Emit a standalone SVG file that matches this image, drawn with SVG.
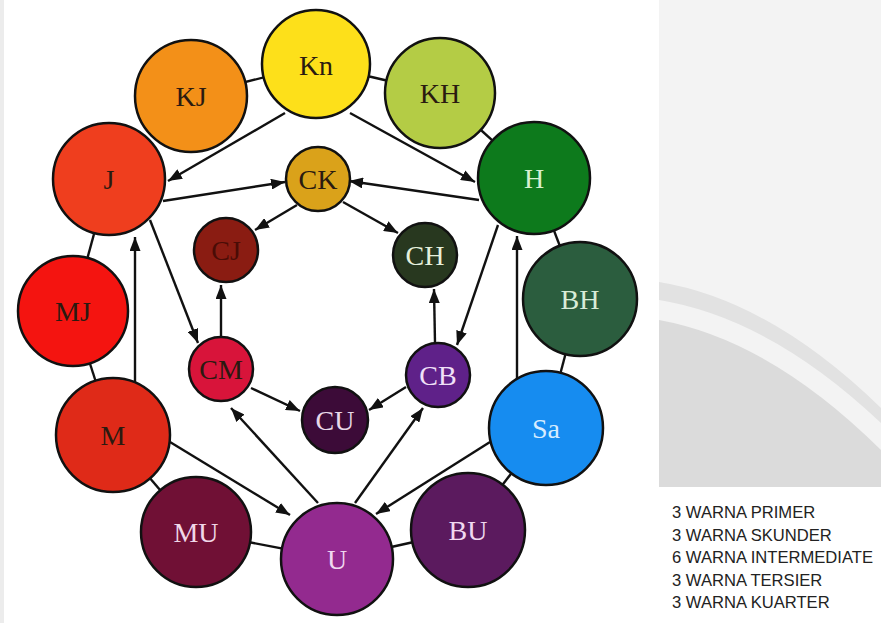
<svg xmlns="http://www.w3.org/2000/svg" width="881" height="623" viewBox="0 0 881 623">
<style>
.c{stroke:#111;stroke-width:2.5}
.t{font-family:"Liberation Serif","Times New Roman",serif;font-size:28px;text-anchor:middle}
.d{fill:#2a1a10}
.ln{stroke:#111;stroke-width:2.4;fill:none}
.ar{stroke:#111;stroke-width:2.4;fill:none;marker-end:url(#ah)}
.lg{font-family:"Liberation Sans",Arial,sans-serif;font-size:16.6px;fill:#222}
</style>
<defs>
<marker id="ah" viewBox="0 0 14 11" refX="14" refY="5.5" markerWidth="14" markerHeight="11" markerUnits="userSpaceOnUse" orient="auto">
<path d="M0,0 L14,5.5 L0,11 z" fill="#111"/>
</marker>
</defs>
<rect width="881" height="623" fill="#fff"/>
<g id="watermark">
<rect x="0" y="0" width="4" height="623" fill="#ececec"/>
<rect x="659" y="0" width="222" height="487" fill="#f3f3f3"/>
<path d="M659,282 Q770,300 881,408 L881,423 Q770,318 659,300 Z" fill="#e2e2e2"/>
<path d="M659,320 Q770,340 881,450 L881,487 L659,487 Z" fill="#dbdbdb"/>
</g>
<g id="connectors">
<line class="ln" x1="316" y1="64" x2="191" y2="96"/>
<line class="ln" x1="316" y1="64" x2="440" y2="93"/>
<line class="ln" x1="440" y1="93" x2="534" y2="178"/>
<line class="ln" x1="534" y1="178" x2="580" y2="299"/>
<line class="ln" x1="580" y1="299" x2="546" y2="428"/>
<line class="ln" x1="546" y1="428" x2="468" y2="530"/>
<line class="ln" x1="468" y1="530" x2="337" y2="559"/>
<line class="ln" x1="337" y1="559" x2="196" y2="532"/>
<line class="ln" x1="196" y1="532" x2="113" y2="435"/>
<line class="ln" x1="113" y1="435" x2="73" y2="311"/>
<line class="ln" x1="73" y1="311" x2="109" y2="179"/>
<line class="ar" x1="285" y1="113" x2="168" y2="181"/>
<line class="ar" x1="350" y1="113" x2="475" y2="182"/>
<line class="ar" x1="163" y1="201" x2="285" y2="182"/>
<line class="ar" x1="479" y1="200" x2="349" y2="181"/>
<line class="ar" x1="297" y1="205" x2="255" y2="230"/>
<line class="ar" x1="343" y1="202" x2="398" y2="233"/>
<line class="ar" x1="150" y1="220" x2="198" y2="343"/>
<line class="ar" x1="135" y1="385" x2="135" y2="237"/>
<line class="ar" x1="221" y1="337" x2="221" y2="285"/>
<line class="ar" x1="498" y1="225" x2="457" y2="345"/>
<line class="ar" x1="517" y1="380" x2="517" y2="236"/>
<line class="ar" x1="435" y1="343" x2="434" y2="289"/>
<line class="ar" x1="406" y1="387" x2="369" y2="410"/>
<line class="ar" x1="251" y1="388" x2="300" y2="411"/>
<line class="ar" x1="318" y1="503" x2="231" y2="408"/>
<line class="ar" x1="355" y1="503" x2="423" y2="408"/>
<line class="ar" x1="170" y1="442" x2="290" y2="515"/>
<line class="ar" x1="490" y1="442" x2="376" y2="514"/>
</g>
<g id="node-Kn"><circle class="c" cx="316" cy="64" r="54" fill="#fde01a"/><text class="t d" x="316" y="75">Kn</text></g>
<g id="node-KJ"><circle class="c" cx="191" cy="96" r="56" fill="#f39018"/><text class="t d" x="191" y="106">KJ</text></g>
<g id="node-KH"><circle class="c" cx="440" cy="93" r="55" fill="#b4cc45"/><text class="t d" x="440" y="103">KH</text></g>
<g id="node-J"><circle class="c" cx="109" cy="179" r="56" fill="#ef3e1e"/><text class="t d" x="109" y="189">J</text></g>
<g id="node-H"><circle class="c" cx="534" cy="178" r="56" fill="#0d7a1c"/><text class="t" x="534" y="188" fill="#d8f0d0">H</text></g>
<g id="node-MJ"><circle class="c" cx="73" cy="311" r="55" fill="#f41410"/><text class="t d" x="73" y="321">MJ</text></g>
<g id="node-BH"><circle class="c" cx="580" cy="299" r="57" fill="#2b5d3e"/><text class="t" x="580" y="309" fill="#d8ecd8">BH</text></g>
<g id="node-M"><circle class="c" cx="113" cy="435" r="57" fill="#df2a18"/><text class="t d" x="113" y="445">M</text></g>
<g id="node-Sa"><circle class="c" cx="546" cy="428" r="57" fill="#168cf0"/><text class="t" x="546" y="438" fill="#d6ecff">Sa</text></g>
<g id="node-MU"><circle class="c" cx="196" cy="532" r="55" fill="#701035"/><text class="t" x="196" y="542" fill="#f0d8e8">MU</text></g>
<g id="node-U"><circle class="c" cx="337" cy="559" r="56" fill="#932a8f"/><text class="t" x="337" y="569" fill="#f0d8f0">U</text></g>
<g id="node-BU"><circle class="c" cx="468" cy="530" r="57" fill="#5b1a5e"/><text class="t" x="468" y="540" fill="#f0d8f0">BU</text></g>
<g id="node-CK"><circle class="c" cx="318" cy="179" r="32" fill="#daa21a"/><text class="t d" x="318" y="189">CK</text></g>
<g id="node-CJ"><circle class="c" cx="226" cy="250" r="32" fill="#8a1c12"/><text class="t" x="226" y="260" fill="#4a0c06">CJ</text></g>
<g id="node-CH"><circle class="c" cx="425" cy="255" r="32" fill="#28381f"/><text class="t" x="425" y="265" fill="#e6f0dc">CH</text></g>
<g id="node-CM"><circle class="c" cx="221" cy="369" r="32" fill="#d8143a"/><text class="t d" x="221" y="379">CM</text></g>
<g id="node-CB"><circle class="c" cx="438" cy="375" r="32" fill="#5f2189"/><text class="t" x="438" y="385" fill="#f0e0f8">CB</text></g>
<g id="node-CU"><circle class="c" cx="335" cy="420" r="33" fill="#3c0b38"/><text class="t" x="335" y="430" fill="#e8d8e8">CU</text></g>
<g id="legend">
<text class="lg" x="672" y="518">3 WARNA PRIMER</text>
<text class="lg" x="672" y="541">3 WARNA SKUNDER</text>
<text class="lg" x="672" y="563">6 WARNA INTERMEDIATE</text>
<text class="lg" x="672" y="586">3 WARNA TERSIER</text>
<text class="lg" x="672" y="608">3 WARNA KUARTER</text>
</g>
</svg>
